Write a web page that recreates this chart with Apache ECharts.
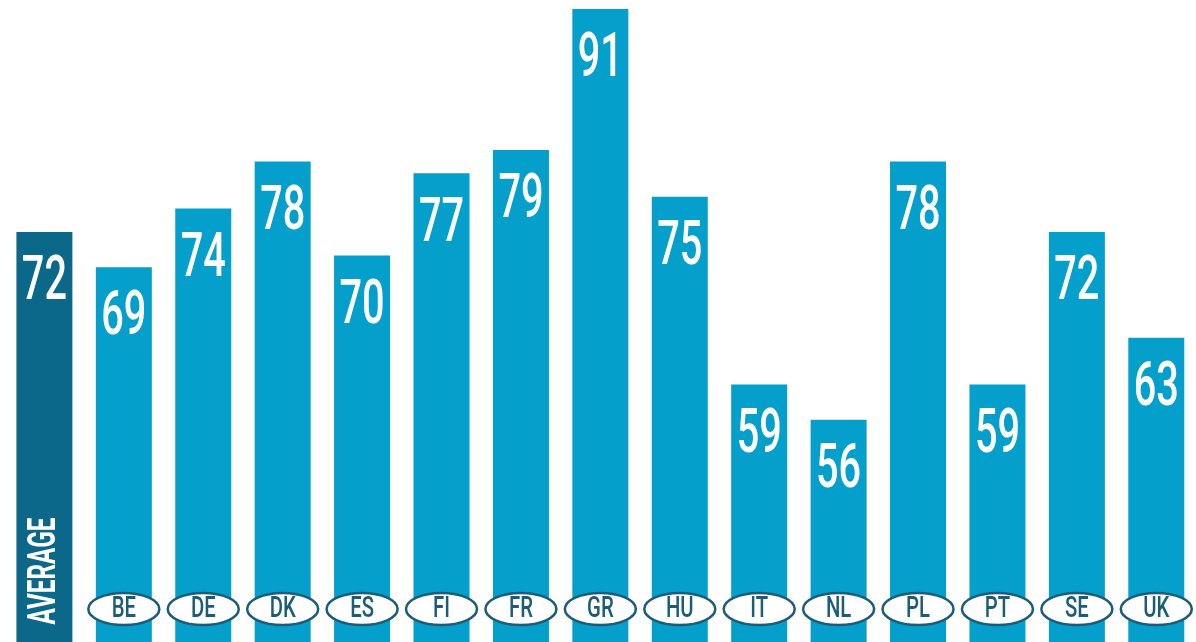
<!DOCTYPE html>
<html>
<head>
<meta charset="utf-8">
<script src="https://cdn.jsdelivr.net/npm/echarts@6/dist/echarts.min.js"></script>
<style>
html,body{margin:0;padding:0;background:#fff;}
#chart{width:1196px;height:642px;}
</style>
</head>
<body>
<div id="chart"></div>
<script>
var categories = ['AVERAGE','BE','DE','DK','ES','FI','FR','GR','HU','IT','NL','PL','PT','SE','UK'];
var values = [72,69,74,78,70,77,79,91,75,59,56,78,59,72,63];
var averageLabel = 'AVERAGE';

var Y_MIN = 37.07, Y_MAX = 91.77;
var LIGHT = '#049fca', DARK = '#0b6888', CODE = '#1b5d78';
var FONT = 'Roboto, "DejaVu Sans Condensed", sans-serif';

var chart = echarts.init(document.getElementById('chart'));
var barData = values.map(function (v, i) {
  return { value: v, itemStyle: { color: i === 0 ? DARK : LIGHT } };
});
var labelData = values.map(function (v, i) { return [i, v]; });
var codeData = categories.slice(1).map(function (c, i) { return [i + 1, Y_MIN]; });

chart.setOption({
  animation: false,
  backgroundColor: '#fff',
  grid: { left: 4.7, top: 0, width: 1194.6, height: 642 },
  xAxis: {
    type: 'category', data: categories, boundaryGap: true,
    axisLine: { show: false }, axisTick: { show: false }, axisLabel: { show: false }, splitLine: { show: false }
  },
  yAxis: { type: 'value', min: Y_MIN, max: Y_MAX, show: false, splitLine: { show: false } },
  series: [
    { type: 'bar', data: barData, barWidth: 56, z: 2 },
    {
      type: 'custom', data: labelData, z: 5,
      renderItem: function (params, api) {
        var p = api.coord([api.value(0), api.value(1)]);
        return {
          type: 'text', x: p[0], y: p[1] + 52, scaleX: 0.65,
          style: {
            text: String(api.value(1)), fill: '#fff',
            fontFamily: FONT, fontSize: 61, fontWeight: 500,
            align: 'center', verticalAlign: 'middle'
          }
        };
      }
    },
    {
      type: 'custom', data: codeData, z: 6,
      renderItem: function (params, api) {
        var idx = api.value(0);
        var p = api.coord([idx, api.value(1)]);
        var cy = p[1] - 33;
        return {
          type: 'group',
          children: [
            { type: 'ellipse', shape: { cx: p[0], cy: cy, rx: 35.5, ry: 16 },
              style: { fill: '#fff', stroke: CODE, lineWidth: 2.5 } },
            { type: 'text', x: p[0], y: cy + 1, scaleX: 0.7,
              style: { text: categories[idx], fill: CODE, fontFamily: FONT, fontSize: 29,
                       fontWeight: 500, align: 'center', verticalAlign: 'middle' } }
          ]
        };
      }
    },
    {
      type: 'custom', data: [[0, Y_MIN]], z: 7,
      renderItem: function (params, api) {
        var p = api.coord([api.value(0), api.value(1)]);
        return {
          type: 'text', x: p[0] + 1, y: p[1] - 71, rotation: Math.PI / 2, scaleX: 0.64,
          style: { text: averageLabel, fill: '#fff', fontFamily: FONT, fontSize: 38,
                   fontWeight: 'bold', align: 'center', verticalAlign: 'middle' }
        };
      }
    }
  ]
});
</script>
</body>
</html>
